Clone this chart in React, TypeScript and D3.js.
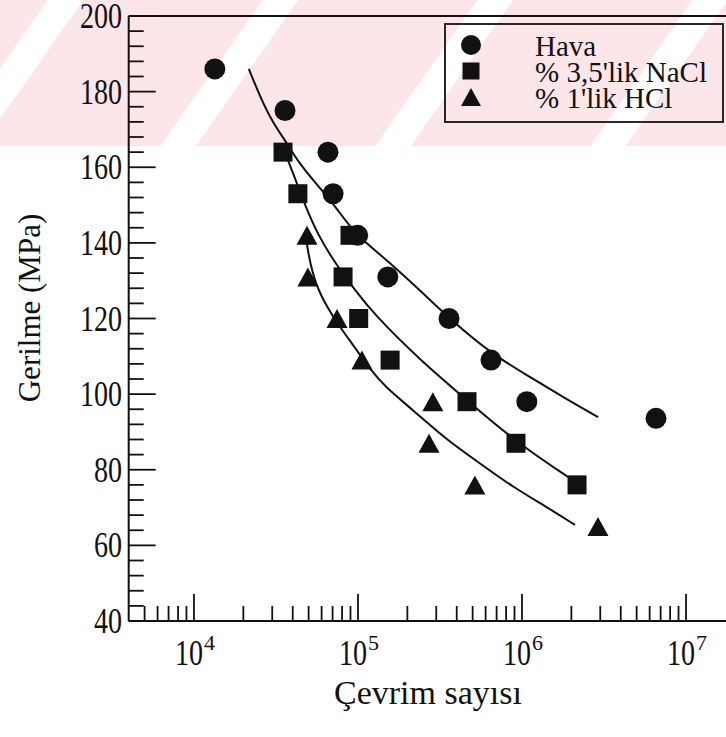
import React from "react";
import * as d3 from "d3";

// ---- data ----
const havaN = [13400, 35900, 65600, 70500, 99600, 152000, 359000, 647000, 1070000, 6560000];
const havaS = [186, 175, 164, 153, 142, 131, 120, 109, 98, 93.6];
const naclN = [34900, 43000, 89400, 81100, 101000, 157000, 462000, 919000, 2165000];
const naclS = [164, 153, 142, 131, 120, 109, 98, 87, 76];
const hclN = [48900, 49500, 74500, 105700, 286000, 271000, 516000, 2905000];
const hclS = [142, 131, 120, 109, 98, 87, 76, 65];

// fitted curves
const havaFitN = [21600, 25300, 30300, 36900, 42500, 53200, 70400, 89400, 110000, 157000, 249000, 359000, 638000, 1120000, 1780000, 2910000];
const havaFitS = [186, 178.6, 171.7, 166.4, 161.9, 156.6, 150.5, 144.2, 140.2, 134.7, 126.7, 120.1, 110.9, 104.5, 99.2, 93.9];
const naclFitN = [35400, 41300, 47500, 57000, 72400, 95900, 123500, 238800, 462000, 919000, 2165000];
const naclFitS = [164.6, 157.1, 150.0, 142.1, 134.7, 127.5, 121.4, 109.0, 98.4, 87.3, 76.5];
const hclFitN = [47500, 50300, 54700, 64700, 77700, 98600, 118400, 146100, 216500, 348900, 554400, 881400, 1421000, 2105000];
const hclFitS = [142.9, 136.0, 129.4, 123.0, 117.7, 111.6, 106.6, 101.9, 95.8, 87.8, 81.7, 75.4, 70.1, 65.4];

const yTicks = [40, 60, 80, 100, 120, 140, 160, 180, 200];
const xDecades = [4, 5, 6, 7];
const legendLabels = ["Hava", "% 3,5'lik NaCl", "% 1'lik HCl"];
const xTitle = "Çevrim sayısı";
const yTitle = "Gerilme (MPa)";

const W = 726;
const H = 737;
const FONT = "Liberation Serif, Times New Roman, serif";
const INK = "#111";

export default function App() {
  const x = d3.scaleLog().domain([4000, 2e7]).range([128.7, 735.4]);
  const y = d3.scaleLinear().domain([40, 200]).range([621, 16]);
  const x0 = x(4000);
  const y0 = y(40);

  const minorY = d3.range(40, 201, 4);
  const minorX: number[] = [];
  for (let e = 3; e <= 7; e++) {
    for (let m = 2; m <= 9; m++) {
      const v = m * Math.pow(10, e);
      if (v > 4000 && v < 2e7) minorX.push(v);
    }
  }

  const line = d3
    .line<[number, number]>()
    .x((d) => x(d[0]))
    .y((d) => y(d[1]))
    .curve(d3.curveBasis);

  const fits = [
    d3.zip(havaFitN, havaFitS) as [number, number][],
    d3.zip(naclFitN, naclFitS) as [number, number][],
    d3.zip(hclFitN, hclFitS) as [number, number][],
  ];

  const circle = (cx: number, cy: number, r: number, k: string) => (
    <circle key={k} cx={cx} cy={cy} r={r} fill={INK} />
  );
  const square = (cx: number, cy: number, s: number, k: string) => (
    <rect key={k} x={cx - s / 2} y={cy - s / 2} width={s} height={s} fill={INK} />
  );
  const tri = (cx: number, cy: number, w: number, h: number, k: string) => (
    <path
      key={k}
      d={`M${cx},${cy - h / 2}L${cx + w / 2},${cy + h / 2}L${cx - w / 2},${cy + h / 2}Z`}
      fill={INK}
    />
  );

  const textStyle = { fontFamily: FONT };

  return (
    <svg
      width={W}
      height={H}
      style={{ position: "absolute", left: 0, top: 0, background: "#fff" }}
    >
      <defs>
        <pattern
          id="wm"
          patternUnits="userSpaceOnUse"
          width={176}
          height={20}
          patternTransform="translate(65,0) rotate(35)"
        >
          <rect x={0} y={0} width={176} height={20} fill="#fde6ea" />
          <rect x={0} y={0} width={15} height={20} fill="#ffffff" />
          <rect x={162} y={0} width={14} height={20} fill="#ffffff" />
        </pattern>
      </defs>
      <rect x={0} y={0} width={W} height={146} fill="url(#wm)" />

      {/* spines */}
      <g stroke={INK} strokeWidth={2} fill="none">
        <line x1={x0} y1={y(200)} x2={x0} y2={y0} />
        <line x1={x0} y1={y0} x2={W} y2={y0} />
        <line x1={x0} y1={y(200)} x2={W} y2={y(200)} />
      </g>

      {/* y ticks */}
      <g stroke={INK} strokeWidth={1.8}>
        {minorY.map((v) => (
          <line key={"ym" + v} x1={x0} x2={x0 + (v % 20 === 0 ? 27 : 15)} y1={y(v)} y2={y(v)} />
        ))}
      </g>
      {/* x ticks */}
      <g stroke={INK} strokeWidth={1.8}>
        {minorX.map((v) => (
          <line key={"xm" + v} x1={x(v)} x2={x(v)} y1={y0} y2={y0 - 15} />
        ))}
        {xDecades.map((e) => (
          <line key={"xM" + e} x1={x(Math.pow(10, e))} x2={x(Math.pow(10, e))} y1={y0} y2={y0 - 27} />
        ))}
      </g>

      {/* y tick labels */}
      <g style={textStyle} fontSize={36} fill={INK}>
        {yTicks.map((v) => (
          <text key={"yl" + v} transform={`translate(122,${y(v) + 12}) scale(0.78,1)`} textAnchor="end">
            {v}
          </text>
        ))}
      </g>
      {/* x tick labels */}
      <g style={textStyle} fill={INK}>
        {xDecades.map((e) => {
          const px = x(Math.pow(10, e));
          return (
            <g key={"xl" + e} transform={`translate(${px - 19},665)`}>
              <text transform="scale(0.78,1)" fontSize={36}>10</text>
              <text x={29} y={-15} fontSize={22}>{e}</text>
            </g>
          );
        })}
      </g>

      {/* axis titles */}
      <text x={428} y={704} textAnchor="middle" style={textStyle} fontSize={34} fill={INK}>
        {xTitle}
      </text>
      <text
        transform="translate(40,308) rotate(-90)"
        textAnchor="middle"
        style={textStyle}
        fontSize={31}
        fill={INK}
      >
        {yTitle}
      </text>

      {/* fitted curves */}
      <g fill="none" stroke={INK} strokeWidth={2}>
        {fits.map((pts, i) => (
          <path key={"fit" + i} d={line(pts) || ""} />
        ))}
      </g>

      {/* data markers */}
      <g>
        {havaN.map((n, i) => circle(x(n), y(havaS[i]), 10.5, "h" + i))}
        {naclN.map((n, i) => square(x(n), y(naclS[i]), 19, "n" + i))}
        {hclN.map((n, i) => tri(x(n), y(hclS[i]), 21, 19, "c" + i))}
      </g>

      {/* legend */}
      <rect x={445} y={24} width={278} height={98} fill="none" stroke={INK} strokeWidth={1.8} />
      {circle(471, 45, 10, "lg0")}
      {square(471, 71, 17, "lg1")}
      {tri(471, 97, 20, 18, "lg2")}
      <g style={textStyle} fontSize={29} fill={INK}>
        {legendLabels.map((t, i) => (
          <text key={"lt" + i} x={535} y={56 + i * 26}>
            {t}
          </text>
        ))}
      </g>
    </svg>
  );
}
